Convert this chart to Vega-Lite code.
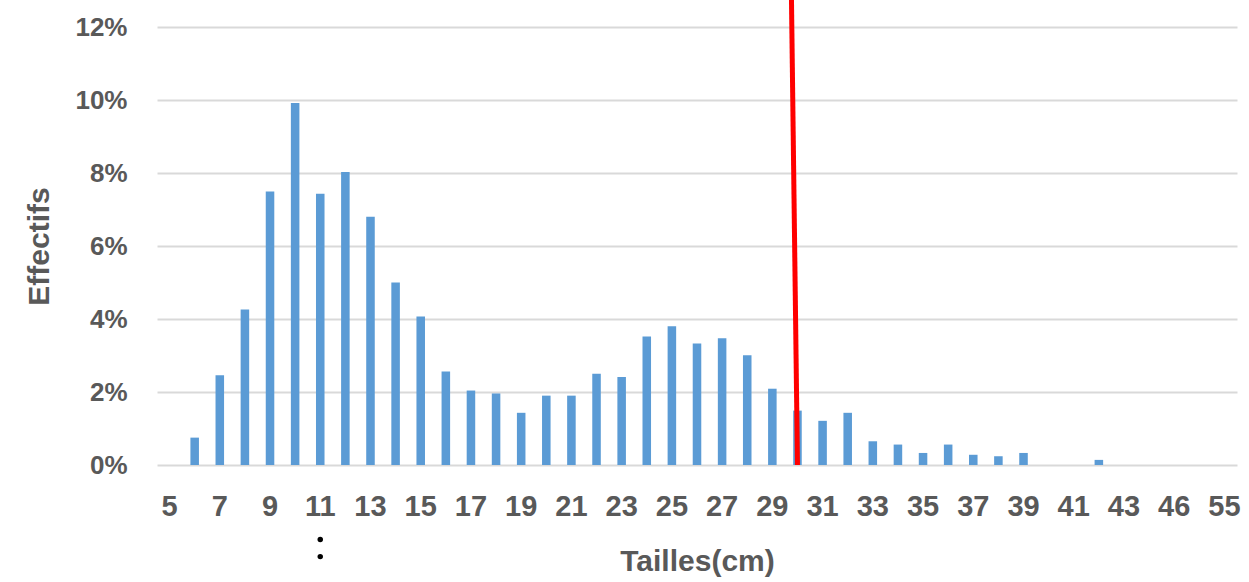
{
  "$schema": "https://vega.github.io/schema/vega-lite/v6.json",
  "autosize": "none",
  "width": 1080,
  "height": 438,
  "padding": {"left": 157, "top": 27, "right": 12, "bottom": 117},
  "background": "white",
  "config": {
    "view": {"stroke": null},
    "font": "Liberation Sans"
  },
  "datasets": {
    "bars": [
      {"taille": 5, "effectif": 0},
      {"taille": 6, "effectif": 0.0075},
      {"taille": 7, "effectif": 0.0246},
      {"taille": 8, "effectif": 0.0426},
      {"taille": 9, "effectif": 0.0749},
      {"taille": 10, "effectif": 0.0992},
      {"taille": 11, "effectif": 0.0743},
      {"taille": 12, "effectif": 0.0803},
      {"taille": 13, "effectif": 0.068},
      {"taille": 14, "effectif": 0.05},
      {"taille": 15, "effectif": 0.0407},
      {"taille": 16, "effectif": 0.0256},
      {"taille": 17, "effectif": 0.0204},
      {"taille": 18, "effectif": 0.0196},
      {"taille": 19, "effectif": 0.0143},
      {"taille": 20, "effectif": 0.019},
      {"taille": 21, "effectif": 0.019},
      {"taille": 22, "effectif": 0.025},
      {"taille": 23, "effectif": 0.0241},
      {"taille": 24, "effectif": 0.0352},
      {"taille": 25, "effectif": 0.038},
      {"taille": 26, "effectif": 0.0333},
      {"taille": 27, "effectif": 0.0347},
      {"taille": 28, "effectif": 0.0301},
      {"taille": 29, "effectif": 0.0209},
      {"taille": 30, "effectif": 0.0149},
      {"taille": 31, "effectif": 0.0121},
      {"taille": 32, "effectif": 0.0143},
      {"taille": 33, "effectif": 0.0065},
      {"taille": 34, "effectif": 0.0056},
      {"taille": 35, "effectif": 0.0033},
      {"taille": 36, "effectif": 0.0056},
      {"taille": 37, "effectif": 0.0028},
      {"taille": 38, "effectif": 0.0024},
      {"taille": 39, "effectif": 0.0033},
      {"taille": 40, "effectif": 0},
      {"taille": 41, "effectif": 0},
      {"taille": 42, "effectif": 0.0014},
      {"taille": 43, "effectif": 0},
      {"taille": 44, "effectif": 0},
      {"taille": 46, "effectif": 0},
      {"taille": 48, "effectif": 0},
      {"taille": 55, "effectif": 0}
    ],
    "seuil": [
      {"taille": 30, "bas": 0, "haut": 0.1275}
    ],
    "points": [
      {"taille": 11, "y": -0.0204},
      {"taille": 11, "y": -0.0251}
    ]
  },
  "layer": [
    {
      "data": {"name": "bars"},
      "mark": {"type": "bar", "color": "#5B9BD5"},
      "encoding": {
        "x": {
          "field": "taille",
          "type": "ordinal",
          "scale": {"paddingInner": 0.66, "paddingOuter": 0.33},
          "axis": {
            "title": "Tailles(cm)",
            "values": [5, 7, 9, 11, 13, 15, 17, 19, 21, 23, 25, 27, 29, 31, 33, 35, 37, 39, 41, 43, 46, 55],
            "labelAngle": 0,
            "labelFont": "Liberation Sans",
            "labelFontSize": 29,
            "labelFontWeight": "bold",
            "labelColor": "#595959",
            "labelPadding": 27,
            "ticks": false,
            "domain": false,
            "titleFont": "Liberation Sans",
            "titleFontSize": 30,
            "titleFontWeight": "bold",
            "titleColor": "#595959",
            "titlePadding": 25
          }
        },
        "y": {
          "field": "effectif",
          "type": "quantitative",
          "scale": {"domain": [0, 0.12], "nice": false},
          "axis": {
            "title": "Effectifs",
            "values": [0, 0.02, 0.04, 0.06, 0.08, 0.1, 0.12],
            "format": ".0%",
            "labelFont": "Liberation Sans",
            "labelFontSize": 26,
            "labelFontWeight": "bold",
            "labelColor": "#595959",
            "labelPadding": 30,
            "ticks": false,
            "domain": false,
            "grid": true,
            "gridColor": "#D9D9D9",
            "gridWidth": 2,
            "titleFont": "Liberation Sans",
            "titleFontSize": 30,
            "titleFontWeight": "bold",
            "titleColor": "#595959",
            "titlePadding": 20
          }
        }
      }
    },
    {
      "data": {"name": "seuil"},
      "mark": {"type": "rule", "color": "#FF0000", "strokeWidth": 5, "x2Offset": -6},
      "encoding": {
        "x": {"field": "taille", "type": "ordinal"},
        "x2": {"field": "taille"},
        "y": {"field": "bas", "type": "quantitative"},
        "y2": {"field": "haut"}
      }
    },
    {
      "data": {"name": "points"},
      "mark": {"type": "circle", "color": "black", "opacity": 1, "size": 30},
      "encoding": {
        "x": {"field": "taille", "type": "ordinal"},
        "y": {"field": "y", "type": "quantitative"}
      }
    }
  ]
}
